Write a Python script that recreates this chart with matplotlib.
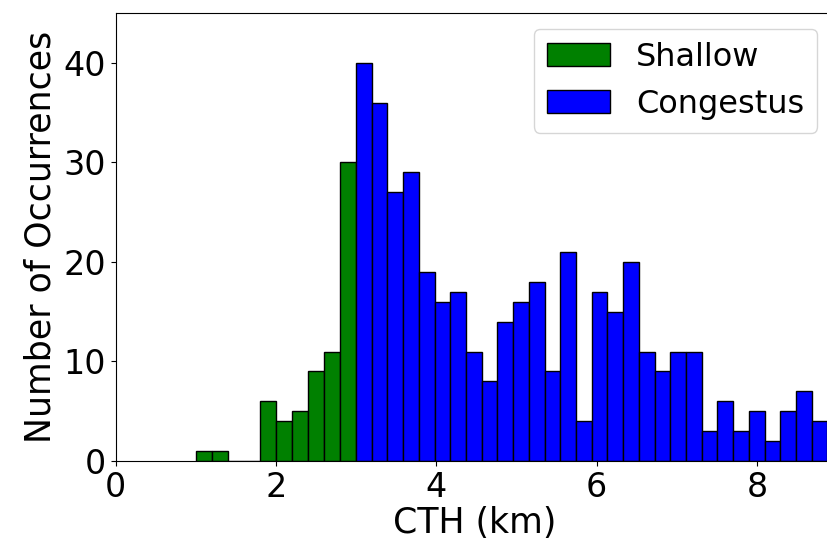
import matplotlib

matplotlib.use("Agg")

import matplotlib.pyplot as plt  # noqa: E402
import numpy as np  # noqa: E402

# histogram counts
shallow_start = 1.0
shallow_width = 0.2
shallow_counts = [1, 1, 0, 0, 6, 4, 5, 9, 11, 30]

congestus_start = 3.0
congestus_width = 0.196
congestus_counts = [40, 36, 27, 29, 19, 16, 17, 11, 8, 14,
                    16, 18, 9, 21, 4, 17, 15, 20, 11, 9,
                    11, 11, 3, 6, 3, 5, 2, 5, 7, 4]

x_ticks = [0, 2, 4, 6, 8]
y_ticks = [0, 10, 20, 30, 40]

shallow_left = shallow_start + shallow_width * np.arange(len(shallow_counts))
congestus_left = congestus_start + congestus_width * np.arange(len(congestus_counts))

fig = plt.figure(figsize=(8.28, 5.46), dpi=100)
# the reference is cropped on the right, so the axes run a bit past the canvas
ax = fig.add_axes([0.1396, 0.1557, 0.8664, 0.8203])

ax.bar(shallow_left, shallow_counts, width=shallow_width, align="edge",
       color="green", edgecolor="black", linewidth=1, label="Shallow")
ax.bar(congestus_left, congestus_counts, width=congestus_width, align="edge",
       color="blue", edgecolor="black", linewidth=1, label="Congestus")

ax.set_xlim(0, 8.95)
ax.set_ylim(0, 45)
ax.set_xticks(x_ticks)
ax.set_yticks(y_ticks)
ax.tick_params(labelsize=24)
ax.spines["right"].set_visible(False)
ax.set_xlabel("CTH (km)", fontsize=25, labelpad=2)
ax.set_ylabel("Number of Occurrences", fontsize=25)
ax.legend(loc="upper right", fontsize=23)

fig.savefig("out.png", dpi=100)
